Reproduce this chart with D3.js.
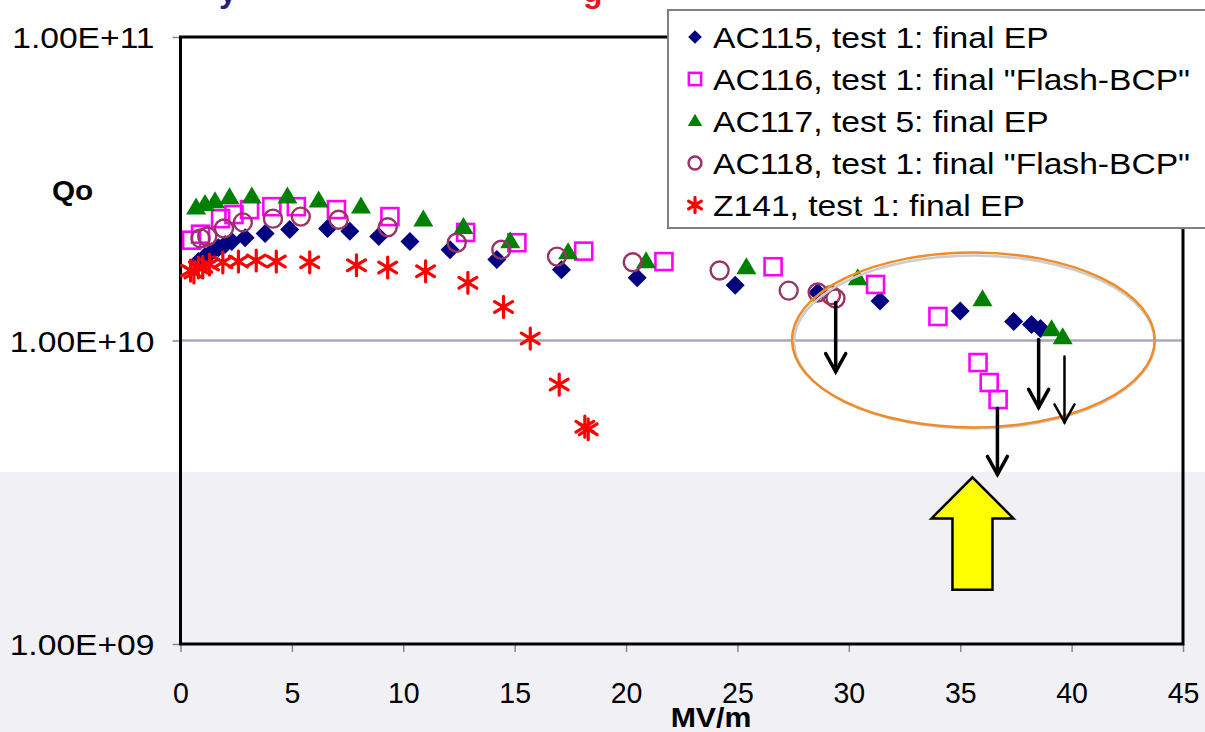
<!DOCTYPE html>
<html><head><meta charset="utf-8">
<script src="https://cdn.jsdelivr.net/npm/d3@7"></script>
<style>
body{margin:0;background:#fff;}
svg{display:block;font-family:Arial,"Liberation Sans",sans-serif;}
</style>
</head><body>
<svg id="c" width="1205" height="732"></svg>
<script>
// ---------------- data (MV/m, Qo) ----------------
const ac115_x = [0.8,1.1,1.4,1.7,2.0,2.3,2.9,3.8,4.9,6.6,7.6,8.9,10.3,12.1,14.2,17.1,20.5,24.9,28.6,31.4,35.0,37.4,38.2,38.6];
const ac115_q = [1.82e10,1.89e10,1.96e10,2.02e10,2.07e10,2.12e10,2.18e10,2.25e10,2.32e10,2.34e10,2.29e10,2.20e10,2.12e10,1.99e10,1.85e10,1.71e10,1.61e10,1.52e10,1.44e10,1.35e10,1.25e10,1.155e10,1.13e10,1.095e10];

const ac116_x = [0.5,0.9,1.8,2.4,3.1,4.1,5.2,7.0,9.4,12.8,15.1,18.1,21.7,26.6,31.2,34.0,35.8,36.3,36.7];
const ac116_q = [2.14e10,2.24e10,2.52e10,2.60e10,2.70e10,2.76e10,2.76e10,2.70e10,2.56e10,2.27e10,2.10e10,1.97e10,1.82e10,1.75e10,1.53e10,1.20e10,8.46e9,7.27e9,6.39e9];

const ac117_x = [0.7,1.1,1.55,2.2,3.2,4.8,6.2,8.1,10.9,12.7,14.8,17.4,20.9,25.4,30.4,36.0,39.1,39.6];
const ac117_q = [2.74e10,2.81e10,2.87e10,2.96e10,2.98e10,2.98e10,2.89e10,2.76e10,2.50e10,2.36e10,2.12e10,1.95e10,1.82e10,1.74e10,1.60e10,1.365e10,1.087e10,1.023e10];

const ac118_x = [0.9,1.2,1.95,2.8,4.15,5.4,7.1,9.3,12.4,14.4,16.9,20.3,24.2,27.3,28.6,29.2,29.4];
const ac118_q = [2.17e10,2.20e10,2.34e10,2.45e10,2.52e10,2.56e10,2.50e10,2.36e10,2.10e10,1.99e10,1.89e10,1.81e10,1.70e10,1.46e10,1.44e10,1.41e10,1.375e10];

const z141_x = [0.45,0.6,0.8,1.0,1.3,1.9,2.6,3.4,4.3,5.8,7.9,9.3,11.0,12.9,14.5,15.7,17.0,18.15,18.3];
const z141_q = [1.70e10,1.675e10,1.74e10,1.75e10,1.78e10,1.81e10,1.82e10,1.835e10,1.82e10,1.81e10,1.77e10,1.74e10,1.69e10,1.55e10,1.29e10,1.015e10,7.16e9,5.2e9,5.1e9];

const seriesNames = ['AC115, test 1: final EP','AC116, test 1: final "Flash-BCP"','AC117, test 5: final EP','AC118, test 1: final "Flash-BCP"','Z141, test 1: final EP'];
const xTicks = [0,5,10,15,20,25,30,35,40,45];
const yTicks = [1e9,1e10,1e11];
const yTickLabels = ['1.00E+09','1.00E+10','1.00E+11'];
const xLabel = 'MV/m';
const yLabel = 'Qo';

// annotations in data space
const ellipseBox = {x0:27.45, x1:43.73, q0:5.17e9, q1:1.95e10};
const dropArrows = [
  {x:29.41, q0:1.334e10, q1:7.9e9, w:3.5},
  {x:38.52, q0:1.0076e10, q1:6.02e9, w:3.5},
  {x:39.68, q0:8.86e9, q1:5.37e9, w:2.5},
  {x:36.67, q0:5.97e9, q1:3.62e9, w:3.5}
];
const bigArrow = {x:35.55, qTip:3.54e9, qBase:1.51e9};

// ---------------- setup ----------------
const svg = d3.select('#c');
const x = d3.scaleLinear().domain([0,45]).range([180.5,1183]);
const y = d3.scaleLog().domain([1e9,1e11]).range([644,37]);

function stretch(sel,k){
  sel.each(function(){
    const w=this.getComputedTextLength();
    this.setAttribute('textLength',w*k);
    this.setAttribute('lengthAdjust','spacingAndGlyphs');
  });
}

// slide background band
svg.append('rect').attr('x',0).attr('y',472).attr('width',1205).attr('height',260).attr('fill','#f0f0f5');

// title fragments (clipped at top of image)
svg.append('text').attr('x',219).attr('y',2).attr('font-size',32).attr('font-weight','bold').attr('fill','#2b1d7a').text('y');
svg.append('text').attr('x',583).attr('y',2).attr('font-size',32).attr('font-weight','bold').attr('fill','#e8141e').text('g');

// gridline at 1E+10
svg.append('line').attr('x1',x(0)).attr('x2',x(45)).attr('y1',y(1e10)).attr('y2',y(1e10))
  .attr('stroke','#a7a7bd').attr('stroke-width',2.5);

// axes
const xAxis = svg.append('g').attr('transform',`translate(0,${y(1e9)})`)
  .call(d3.axisBottom(x).tickValues(xTicks).tickSize(8).tickFormat(d=>String(d)));
xAxis.select('.domain').remove();
xAxis.selectAll('line').attr('stroke','#888').attr('stroke-width',1.5);
xAxis.selectAll('text').attr('font-size',30).attr('fill','#000').attr('y',59).attr('dy',0)
  .attr('font-family','Arial,"Liberation Sans",sans-serif');
stretch(xAxis.selectAll('text'),0.95);

const yAxis = svg.append('g').attr('transform',`translate(${x(0)},0)`)
  .call(d3.axisLeft(y).tickValues(yTicks).tickSize(8).tickFormat((d,i)=>yTickLabels[i]));
yAxis.select('.domain').remove();
yAxis.selectAll('line').attr('stroke','#888').attr('stroke-width',1.5);
yAxis.selectAll('text').attr('font-size',30).attr('fill','#000').attr('x',-26).attr('dy','0.36em')
  .attr('font-family','Arial,"Liberation Sans",sans-serif');
stretch(yAxis.selectAll('text'),1.12);

// frame
const frame = svg.append('g').attr('stroke','#000').attr('stroke-width',3).attr('fill','none');
frame.append('rect').attr('x',x(0)).attr('y',y(1e11)).attr('width',x(45)-x(0)).attr('height',y(1e9)-y(1e11));

// axis titles
const qo = svg.append('text').attr('x',52).attr('y',200).attr('font-size',27).attr('font-weight','bold').text(yLabel);
stretch(qo,1.1);
const mv = svg.append('text').attr('x',711).attr('y',727).attr('text-anchor','middle').attr('font-size',27).attr('font-weight','bold').text(xLabel);
stretch(mv,1.12);

// ---------------- markers ----------------
function diamondPath(s){return `M0,${-s}L${s},0L0,${s}L${-s},0Z`;}
function asteriskPath(s){const a=s*0.85;return `M0,${-s}V${s}M${-a},${-a*0.6}L${a},${a*0.6}M${-a},${a*0.6}L${a},${-a*0.6}`;}
function trianglePath(w,h){return `M0,${-h*0.6}L${w/2},${h*0.4}L${-w/2},${h*0.4}Z`;}

const styles = [
  {draw:(g,s)=>g.append('path').attr('d',diamondPath(9.5*s)).attr('fill','#000080')},
  {draw:(g,s)=>g.append('rect').attr('x',-8.5*s).attr('y',-8.5*s).attr('width',17*s).attr('height',17*s).attr('fill','none').attr('stroke','#ff00ff').attr('stroke-width',2.6)},
  {draw:(g,s)=>g.append('path').attr('d',trianglePath(20*s,17*s)).attr('fill','#008000')},
  {draw:(g,s)=>g.append('circle').attr('r',9*s).attr('fill','none').attr('stroke','#993366').attr('stroke-width',2.4)},
  {draw:(g,s)=>g.append('path').attr('d',asteriskPath(10.5*s)).attr('fill','none').attr('stroke','#ff0000').attr('stroke-width',3.2).attr('stroke-linecap','round')}
];

const allX = [ac115_x,ac116_x,ac117_x,ac118_x,z141_x];
const allQ = [ac115_q,ac116_q,ac117_q,ac118_q,z141_q];

allX.forEach((xs,si)=>{
  const pts = xs.map((v,i)=>({x:v,q:allQ[si][i]}));
  const g = svg.append('g');
  g.selectAll('g').data(pts).join('g')
    .attr('transform',d=>`translate(${x(d.x)},${y(d.q)})`)
    .each(function(){styles[si].draw(d3.select(this),1);});
});

// ---------------- annotations ----------------
const ex0=x(ellipseBox.x0), ex1=x(ellipseBox.x1), ey0=y(ellipseBox.q1), ey1=y(ellipseBox.q0);
const ecx=(ex0+ex1)/2, ecy=(ey0+ey1)/2, erx=(ex1-ex0)/2, ery=(ey1-ey0)/2;
svg.append('ellipse').attr('cx',ecx+1).attr('cy',ecy+2).attr('rx',erx-1).attr('ry',ery-1)
  .attr('fill','none').attr('stroke','#cccccc').attr('stroke-width',2.5);
svg.append('ellipse').attr('cx',ecx).attr('cy',ecy).attr('rx',erx).attr('ry',ery)
  .attr('fill','none').attr('stroke','#f08c28').attr('stroke-width',2.5);

dropArrows.forEach(a=>{
  const px=x(a.x), p0=y(a.q0), p1=y(a.q1);
  const g=svg.append('g').attr('stroke','#000').attr('stroke-width',a.w).attr('fill','none').attr('stroke-linecap','round');
  g.append('line').attr('x1',px).attr('x2',px).attr('y1',p0).attr('y2',p1);
  g.append('path').attr('d',`M${px-10},${p1-18}L${px},${p1}L${px+10},${p1-18}`).attr('stroke-linejoin','miter');
});

{
  const cx=x(bigArrow.x), ty=y(bigArrow.qTip), by=y(bigArrow.qBase);
  const hw=41, hh=41, sw=20;
  svg.append('path')
    .attr('d',`M${cx},${ty}L${cx+hw},${ty+hh}L${cx+sw},${ty+hh}L${cx+sw},${by}L${cx-sw},${by}L${cx-sw},${ty+hh}L${cx-hw},${ty+hh}Z`)
    .attr('fill','#ffff00').attr('stroke','#000').attr('stroke-width',2.5).attr('stroke-linejoin','miter');
}

// ---------------- legend ----------------
const lg = svg.append('g');
lg.append('rect').attr('x',668).attr('y',10).attr('width',560).attr('height',218)
  .attr('fill','#fff').attr('stroke','#7f7f7f').attr('stroke-width',2);
seriesNames.forEach((name,i)=>{
  const cy = 37 + i*42;
  const m = lg.append('g').attr('transform',`translate(695,${cy})`);
  styles[i].draw(m,0.72);
  const t = lg.append('text').attr('x',713).attr('y',cy).attr('dy','0.36em').attr('font-size',30).attr('fill','#000').text(name);
  stretch(t,1.12);
});
</script>
</body></html>
